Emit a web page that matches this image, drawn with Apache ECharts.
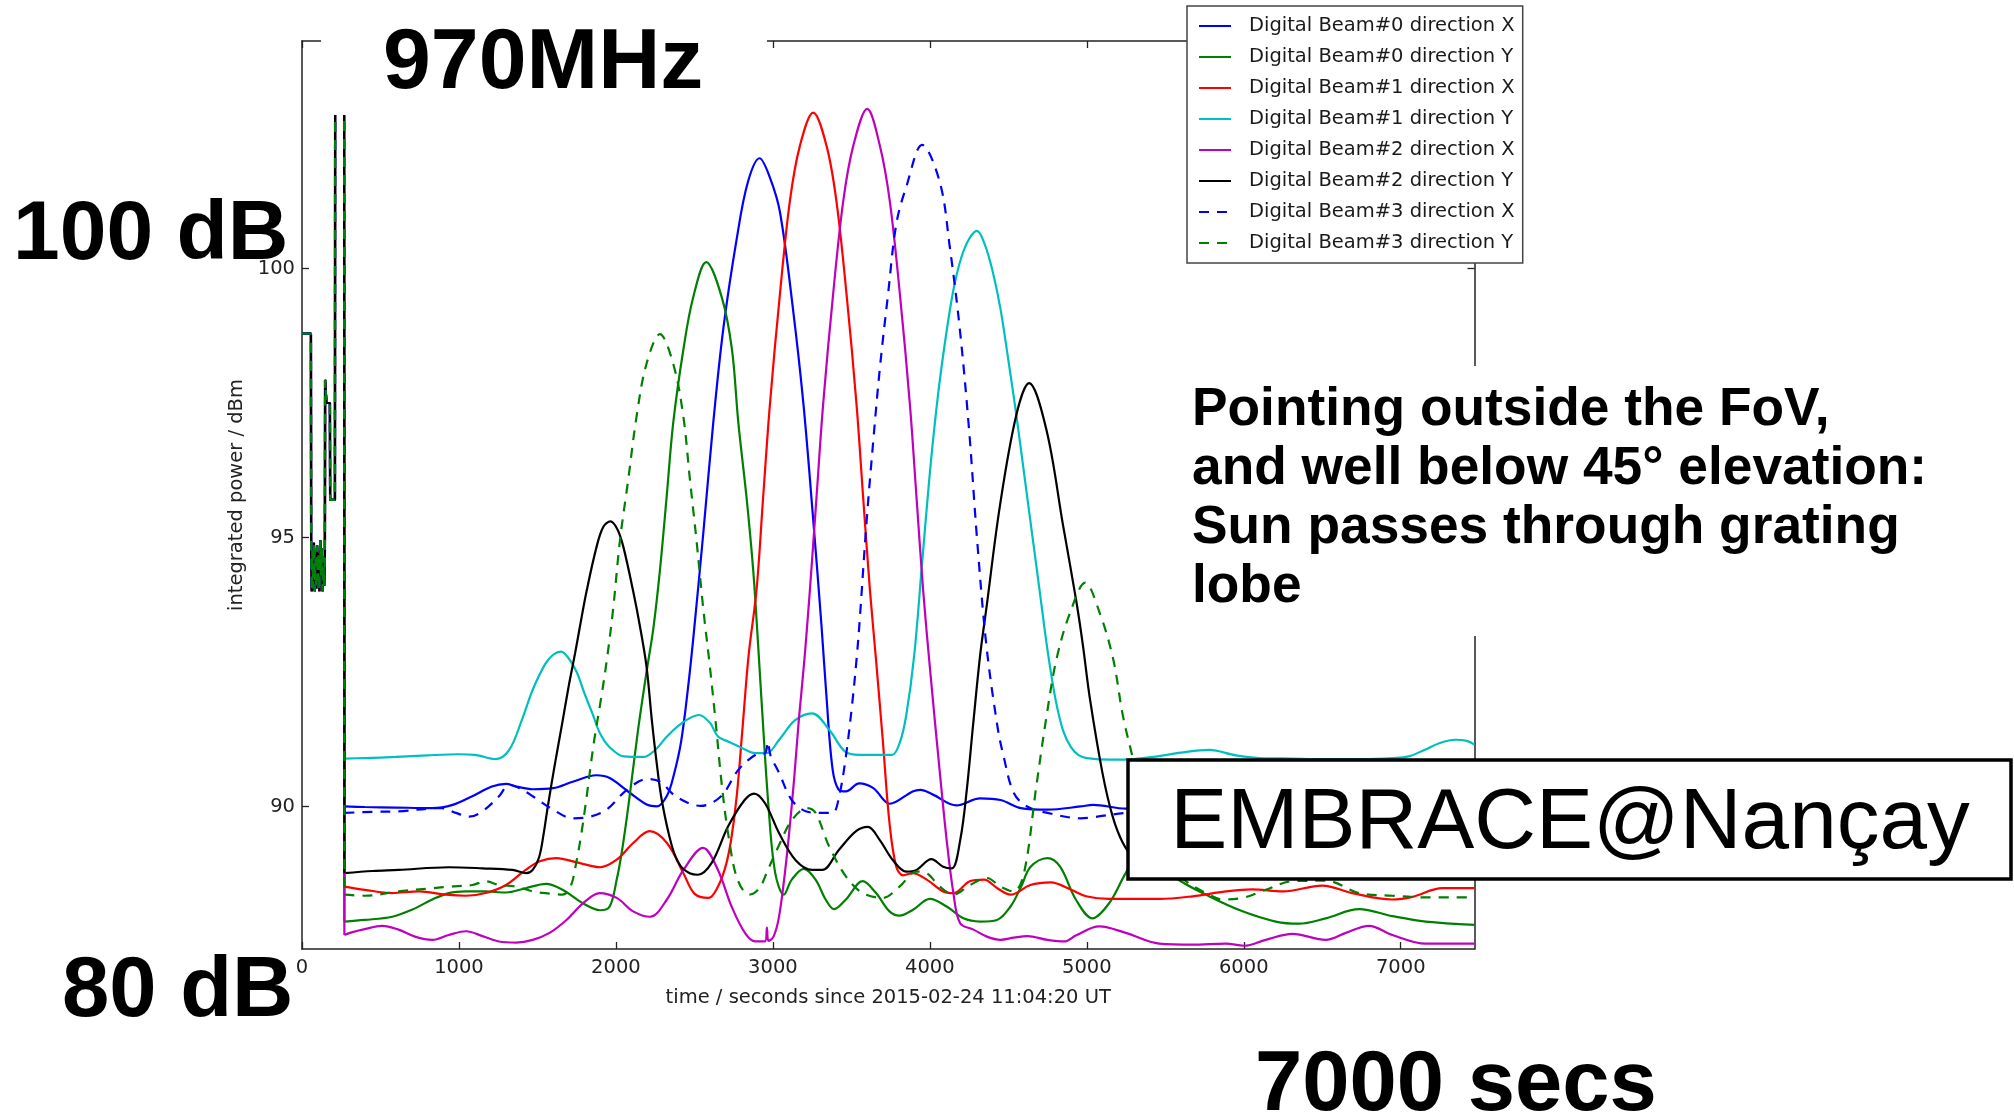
<!DOCTYPE html>
<html>
<head>
<meta charset="utf-8">
<script src="https://cdn.jsdelivr.net/npm/echarts@6/dist/echarts.min.js"></script>
<style>
  html, body { margin: 0; padding: 0; background: #fff; }
  #chart { width: 2014px; height: 1117px; }
</style>
</head>
<body>
<div id="chart"></div>
<script>
// Receiver start-up sweep, identical for every beam, before tracking starts (s, dBm)
const startupTimes = [0, 57, 58, 62, 66, 71, 76, 81, 86, 91, 96, 101, 106, 111, 116, 121, 126, 131, 136, 141, 146, 147, 152, 156, 178, 179, 210, 211, 268];
const startupPower = [98.79, 98.79, 94.8, 94.0, 94.75, 94.05, 94.9, 94.0, 94.6, 94.05, 94.85, 94.2, 94.7, 94.0, 94.95, 94.3, 94.8, 94.0, 94.65, 94.1, 94.6, 97.93, 97.93, 97.5, 97.5, 95.7, 95.7, 104.23, 104.23];

const beamNames = [
  'Digital Beam#0 direction X', 'Digital Beam#0 direction Y',
  'Digital Beam#1 direction X', 'Digital Beam#1 direction Y',
  'Digital Beam#2 direction X', 'Digital Beam#2 direction Y',
  'Digital Beam#3 direction X', 'Digital Beam#3 direction Y'
];

// Integrated power per beam and polarisation during the Sun transit, [seconds, dBm]
const beam0X = [[270, 90.0], [400, 89.99], [600, 89.98], [830, 89.97], [960, 90.03], [1085, 90.19], [1210, 90.37], [1300, 90.42], [1365, 90.37], [1470, 90.32], [1600, 90.34], [1725, 90.46], [1875, 90.58], [1960, 90.53], [2090, 90.25], [2200, 90.03], [2260, 90.0], [2325, 90.2], [2370, 90.6], [2415, 91.2], [2458, 92.17], [2492, 93.1], [2556, 95.06], [2620, 97.13], [2685, 98.9], [2770, 100.56], [2840, 101.6], [2915, 102.05], [2980, 101.7], [3045, 101.05], [3130, 99.2], [3195, 97.47], [3255, 95.4], [3310, 93.35], [3340, 92.1], [3380, 90.7], [3420, 90.31], [3465, 90.28], [3550, 90.43], [3640, 90.34], [3745, 90.05], [3890, 90.28], [3940, 90.31], [4020, 90.22], [4170, 90.02], [4320, 90.15], [4450, 90.12], [4580, 89.97], [4750, 89.94], [4960, 90.0], [5040, 90.03], [5250, 89.96], [5500, 89.98], [6000, 90.0], [6500, 89.98], [7000, 90.0], [7470, 90.0]];
const beam0Y = [[270, 87.86], [400, 87.89], [575, 87.95], [700, 88.08], [830, 88.27], [935, 88.39], [1045, 88.42], [1170, 88.42], [1300, 88.4], [1425, 88.48], [1555, 88.56], [1660, 88.45], [1790, 88.2], [1900, 88.07], [1960, 88.14], [2005, 88.64], [2040, 89.2], [2079, 90.0], [2140, 91.4], [2195, 92.5], [2238, 93.3], [2280, 94.38], [2323, 95.75], [2365, 97.13], [2430, 98.5], [2492, 99.46], [2575, 100.12], [2675, 99.46], [2739, 98.5], [2780, 97.13], [2832, 95.75], [2875, 94.38], [2906, 93.0], [2930, 91.86], [2972, 90.0], [3015, 88.76], [3070, 88.36], [3120, 88.64], [3197, 88.84], [3272, 88.64], [3336, 88.27], [3390, 88.09], [3465, 88.27], [3572, 88.61], [3657, 88.39], [3743, 88.05], [3807, 87.97], [3893, 88.08], [4000, 88.28], [4107, 88.14], [4214, 87.92], [4321, 87.86], [4428, 87.89], [4514, 88.14], [4580, 88.5], [4642, 88.88], [4749, 89.04], [4830, 88.88], [4930, 88.27], [5036, 87.92], [5142, 88.2], [5248, 88.76], [5350, 89.2], [5450, 89.0], [5567, 88.67], [5779, 88.33], [5992, 88.05], [6204, 87.86], [6352, 87.82], [6522, 87.92], [6735, 88.09], [6947, 87.96], [7159, 87.86], [7470, 87.8]];
const beam1X = [[270, 88.51], [400, 88.45], [575, 88.39], [745, 88.42], [915, 88.36], [1045, 88.34], [1170, 88.39], [1300, 88.54], [1425, 88.82], [1515, 88.98], [1620, 89.04], [1750, 88.96], [1835, 88.9], [1900, 88.87], [2005, 89.01], [2110, 89.32], [2215, 89.54], [2325, 89.32], [2430, 88.76], [2500, 88.38], [2590, 88.3], [2650, 88.51], [2700, 88.9], [2735, 89.4], [2770, 90.2], [2805, 91.4], [2845, 92.8], [2896, 94.03], [2938, 95.75], [2981, 97.47], [3045, 99.53], [3108, 101.25], [3172, 102.28], [3257, 102.9], [3342, 102.28], [3405, 101.25], [3469, 99.53], [3533, 97.47], [3575, 95.75], [3618, 94.03], [3655, 92.8], [3700, 91.24], [3743, 89.69], [3786, 88.88], [3830, 88.72], [3890, 88.76], [3980, 88.64], [4085, 88.42], [4150, 88.39], [4255, 88.61], [4345, 88.64], [4430, 88.48], [4515, 88.36], [4640, 88.54], [4770, 88.59], [4900, 88.45], [4995, 88.33], [5140, 88.28], [5460, 88.28], [5675, 88.33], [5885, 88.42], [6050, 88.46], [6250, 88.42], [6500, 88.53], [6690, 88.39], [6945, 88.27], [7075, 88.32], [7265, 88.48], [7470, 88.48]];
const beam1Y = [[270, 90.89], [400, 90.9], [600, 90.92], [800, 90.95], [1000, 90.97], [1100, 90.96], [1235, 90.88], [1320, 91.05], [1400, 91.6], [1470, 92.17], [1550, 92.65], [1600, 92.82], [1650, 92.88], [1700, 92.75], [1750, 92.5], [1800, 92.1], [1850, 91.73], [1900, 91.35], [1960, 91.1], [2050, 90.93], [2175, 90.92], [2250, 91.05], [2325, 91.3], [2420, 91.55], [2530, 91.7], [2600, 91.55], [2650, 91.3], [2720, 91.2], [2780, 91.12], [2890, 90.99], [2960, 90.99], [3040, 91.24], [3140, 91.6], [3250, 91.73], [3360, 91.42], [3460, 91.02], [3550, 90.96], [3680, 90.96], [3760, 90.96], [3810, 91.2], [3850, 91.7], [3900, 92.8], [3950, 94.5], [4000, 96.2], [4050, 97.6], [4100, 98.7], [4150, 99.6], [4200, 100.2], [4250, 100.55], [4300, 100.7], [4350, 100.45], [4400, 99.95], [4450, 99.25], [4500, 98.3], [4550, 97.3], [4600, 96.2], [4650, 95.1], [4700, 94.0], [4750, 92.9], [4800, 92.0], [4850, 91.4], [4900, 91.1], [4950, 90.95], [5000, 90.9], [5150, 90.87], [5300, 90.88], [5450, 90.93], [5600, 91.0], [5780, 91.05], [5950, 90.95], [6100, 90.9], [6300, 90.89], [6500, 90.88], [6750, 90.88], [6950, 90.9], [7050, 90.93], [7150, 91.05], [7250, 91.18], [7350, 91.24], [7420, 91.22], [7470, 91.15]];
const beam2X = [[270, 87.61], [316, 87.66], [400, 87.72], [510, 87.78], [615, 87.71], [720, 87.58], [830, 87.52], [935, 87.61], [1045, 87.68], [1150, 87.59], [1255, 87.49], [1365, 87.47], [1470, 87.52], [1577, 87.65], [1685, 87.89], [1790, 88.2], [1897, 88.39], [2005, 88.3], [2110, 88.05], [2218, 87.95], [2325, 88.27], [2430, 88.82], [2555, 89.23], [2650, 88.82], [2737, 88.14], [2822, 87.65], [2887, 87.49], [2950, 87.49], [2962, 87.75], [2972, 87.5], [3004, 87.58], [3036, 87.9], [3070, 88.6], [3100, 89.4], [3135, 90.5], [3165, 91.6], [3200, 92.7], [3236, 94.03], [3278, 95.75], [3320, 97.47], [3384, 99.53], [3448, 101.25], [3512, 102.28], [3601, 102.97], [3682, 102.28], [3745, 101.25], [3809, 99.53], [3873, 97.47], [3915, 95.75], [3957, 94.03], [4000, 92.59], [4064, 90.62], [4107, 89.38], [4150, 88.39], [4193, 87.83], [4278, 87.71], [4364, 87.58], [4450, 87.52], [4535, 87.56], [4621, 87.59], [4749, 87.52], [4856, 87.49], [4930, 87.6], [5079, 87.77], [5248, 87.65], [5461, 87.45], [5673, 87.43], [5885, 87.45], [6002, 87.41], [6140, 87.52], [6310, 87.63], [6522, 87.52], [6650, 87.65], [6798, 87.78], [6947, 87.61], [7159, 87.45], [7470, 87.45]];
const beam2Y = [[270, 88.76], [450, 88.8], [615, 88.82], [935, 88.87], [1150, 88.85], [1340, 88.82], [1430, 88.76], [1470, 88.82], [1510, 89.05], [1540, 89.5], [1566, 90.0], [1612, 90.8], [1658, 91.55], [1700, 92.25], [1740, 92.85], [1771, 93.35], [1813, 94.0], [1877, 94.83], [1920, 95.2], [1965, 95.3], [2010, 95.15], [2047, 94.83], [2110, 94.0], [2153, 93.35], [2195, 92.6], [2229, 91.6], [2260, 90.8], [2293, 90.1], [2357, 89.26], [2410, 88.9], [2470, 88.76], [2522, 88.73], [2610, 88.95], [2715, 89.63], [2820, 90.12], [2880, 90.24], [2950, 90.06], [3040, 89.5], [3145, 89.0], [3250, 88.82], [3315, 88.82], [3420, 89.19], [3530, 89.54], [3605, 89.62], [3680, 89.38], [3765, 89.0], [3850, 88.79], [3915, 88.82], [4010, 89.02], [4085, 88.88], [4140, 88.85], [4195, 89.4], [4235, 90.3], [4275, 91.5], [4320, 92.8], [4361, 93.7], [4446, 95.58], [4552, 97.29], [4632, 97.87], [4743, 97.0], [4849, 95.22], [4934, 93.8], [4975, 93.0], [5020, 92.0], [5100, 90.62], [5165, 89.81], [5230, 89.32], [5300, 89.05], [5450, 88.85], [5700, 88.8], [6200, 88.85], [6700, 88.8], [7200, 88.85], [7470, 88.8]];
const beam3X = [[270, 89.88], [450, 89.9], [615, 89.91], [890, 89.97], [980, 89.88], [1065, 89.81], [1150, 89.91], [1255, 90.19], [1320, 90.4], [1385, 90.34], [1470, 90.19], [1600, 89.94], [1725, 89.78], [1835, 89.81], [1940, 89.94], [2070, 90.31], [2200, 90.51], [2280, 90.46], [2390, 90.17], [2540, 90.01], [2670, 90.19], [2780, 90.68], [2890, 90.96], [2950, 90.99], [2968, 91.2], [2985, 90.95], [3040, 90.62], [3120, 90.12], [3210, 89.91], [3300, 89.88], [3380, 89.88], [3422, 90.19], [3465, 90.93], [3505, 91.9], [3535, 92.8], [3554, 93.5], [3597, 95.3], [3639, 96.78], [3682, 98.16], [3734, 99.53], [3787, 100.84], [3851, 101.53], [3951, 102.3], [4064, 101.6], [4127, 100.4], [4190, 98.9], [4250, 97.0], [4300, 95.0], [4360, 93.0], [4430, 91.5], [4470, 90.93], [4535, 90.25], [4620, 90.0], [4750, 89.88], [4960, 89.78], [5040, 89.8], [5250, 89.88], [5500, 89.9], [6000, 89.92], [6500, 89.9], [7000, 89.9], [7470, 89.92]];
const beam3Y = [[270, 88.36], [400, 88.34], [615, 88.42], [830, 88.48], [935, 88.51], [1085, 88.54], [1170, 88.61], [1255, 88.54], [1365, 88.51], [1470, 88.42], [1577, 88.38], [1660, 88.36], [1710, 88.5], [1750, 89.0], [1780, 89.5], [1805, 90.0], [1860, 91.2], [1905, 92.0], [1941, 92.7], [1983, 93.69], [2025, 94.93], [2079, 96.09], [2132, 97.26], [2195, 98.23], [2280, 98.78], [2365, 98.23], [2429, 97.26], [2471, 96.09], [2514, 94.93], [2556, 93.69], [2599, 92.59], [2636, 91.55], [2678, 90.31], [2721, 89.38], [2775, 88.64], [2850, 88.36], [2914, 88.48], [2968, 88.82], [3036, 89.26], [3122, 89.75], [3218, 89.97], [3272, 89.88], [3358, 89.26], [3465, 88.7], [3572, 88.39], [3700, 88.3], [3807, 88.51], [3914, 88.79], [3979, 88.76], [4064, 88.51], [4150, 88.36], [4257, 88.54], [4364, 88.67], [4450, 88.51], [4535, 88.42], [4600, 88.76], [4679, 90.39], [4743, 91.67], [4807, 92.74], [4892, 93.59], [4990, 94.16], [5083, 93.59], [5168, 92.74], [5231, 91.67], [5306, 90.75], [5400, 89.6], [5500, 88.95], [5631, 88.61], [5779, 88.36], [5864, 88.27], [5992, 88.3], [6140, 88.45], [6310, 88.61], [6522, 88.62], [6735, 88.39], [6947, 88.34], [7159, 88.31], [7470, 88.31]];

const beamData = [beam0X, beam0Y, beam1X, beam1Y, beam2X, beam2Y, beam3X, beam3Y];

// Axis extents and tick positions
const timeRange = [0, 7470];
const powerRange = [87.35, 104.23];
const timeTicks = [0, 1000, 2000, 3000, 4000, 5000, 6000, 7000];
const powerTicks = [90, 95, 100];

const beamColors = ['#0000ff', '#008000', '#ff0000', '#00bfbf', '#bf00bf', '#000000', '#0000ff', '#008000'];
const beamDashed = [false, false, false, false, false, false, true, true];
const dashPattern = [10, 8];

const tickFont = { fontFamily: 'DejaVu Sans', fontSize: 19.5, color: '#222' };
const spine = { show: true, onZero: false, lineStyle: { color: '#222', width: 1.5 } };

function lineStyleFor(i) {
  return { color: beamColors[i], width: 2.2, type: beamDashed[i] ? dashPattern : 'solid' };
}

// Main tracking curves (smoothed) followed by the unsmoothed start-up sweep
const series = [];
beamNames.forEach((name, i) => {
  series.push({
    name: name, type: 'line', data: beamData[i],
    smooth: 0.35, symbol: 'none', lineStyle: lineStyleFor(i),
    itemStyle: { color: beamColors[i] }, silent: true
  });
});
beamNames.forEach((name, i) => {
  const sweep = startupTimes.map((t, k) => [t, startupPower[k]]);
  sweep.push(beamData[i][0]);
  series.push({
    name: name + ' (start-up)', type: 'line', data: sweep,
    smooth: false, symbol: 'none', lineStyle: lineStyleFor(i),
    itemStyle: { color: beamColors[i] }, silent: true
  });
});

// Place a text by its baseline using canvas "middle" alignment
const mid = (baseline, size) => baseline - 0.33 * size;
const boldFont = { fontFamily: 'Liberation Sans', fontWeight: 'bold', fill: '#000' };

const chart = echarts.init(document.getElementById('chart'), null, { renderer: 'canvas' });
chart.setOption({
  animation: false,
  backgroundColor: '#fff',
  grid: { left: 302, top: 41, width: 1172.5, height: 908, containLabel: false },
  xAxis: [
    {
      type: 'value', position: 'bottom', min: timeRange[0], max: timeRange[1],
      axisLine: spine,
      axisTick: { inside: true, length: 7, customValues: timeTicks, lineStyle: { color: '#222', width: 1.3 } },
      axisLabel: Object.assign({ customValues: timeTicks, margin: 9, formatter: v => String(v) }, tickFont),
      splitLine: { show: false },
      name: 'time / seconds since 2015-02-24 11:04:20 UT',
      nameLocation: 'middle', nameGap: 39,
      nameTextStyle: { fontFamily: 'DejaVu Sans', fontSize: 19.5, color: '#222' }
    },
    {
      type: 'value', position: 'top', min: timeRange[0], max: timeRange[1],
      axisLine: spine,
      axisTick: { inside: true, length: 7, customValues: timeTicks, lineStyle: { color: '#222', width: 1.3 } },
      axisLabel: { show: false }, splitLine: { show: false }
    }
  ],
  yAxis: [
    {
      type: 'value', position: 'left', min: powerRange[0], max: powerRange[1],
      axisLine: spine,
      axisTick: { inside: true, length: 7, customValues: powerTicks, lineStyle: { color: '#222', width: 1.3 } },
      axisLabel: Object.assign({ customValues: powerTicks, margin: 7, formatter: v => String(v) }, tickFont),
      splitLine: { show: false },
      name: 'integrated power / dBm', nameLocation: 'middle', nameGap: 52, nameRotate: 90,
      nameTextStyle: { fontFamily: 'DejaVu Sans', fontSize: 19.5, color: '#222' }
    },
    {
      type: 'value', position: 'right', min: powerRange[0], max: powerRange[1],
      axisLine: spine,
      axisTick: { inside: true, length: 7, customValues: powerTicks, lineStyle: { color: '#222', width: 1.3 } },
      axisLabel: { show: false }, splitLine: { show: false }
    }
  ],
  legend: {
    data: beamNames, orient: 'vertical', left: 1187, top: 6,
    padding: [10, 8, 10, 11], itemWidth: 32, itemHeight: 14, itemGap: 11,
    backgroundColor: '#fff', borderColor: '#444', borderWidth: 1.5, borderRadius: 0,
    selectedMode: false,
    itemStyle: { color: 'transparent', borderColor: 'transparent', borderWidth: 0, opacity: 0 },
    textStyle: { fontFamily: 'DejaVu Sans', fontSize: 19.5, color: '#1a1a1a', lineHeight: 20, padding: [0, 0, 0, 13] }
  },
  series: series,
  graphic: [
    { type: 'rect', z: 100, shape: { x: 321, y: 0, width: 446, height: 115 }, style: { fill: '#fff' } },
    { type: 'text', z: 101, x: 383, y: mid(93, 86), style: Object.assign({ text: '970MHz', fontSize: 86, verticalAlign: 'middle' }, boldFont) },
    { type: 'text', z: 101, x: 13, y: mid(264, 84), style: Object.assign({ text: '100 dB', fontSize: 84, verticalAlign: 'middle' }, boldFont) },
    { type: 'text', z: 101, x: 62, y: mid(1021, 85), style: Object.assign({ text: '80 dB', fontSize: 85, verticalAlign: 'middle' }, boldFont) },
    { type: 'text', z: 101, x: 1255, y: mid(1115, 85), style: Object.assign({ text: '7000 secs', fontSize: 85, verticalAlign: 'middle' }, boldFont) },
    { type: 'rect', z: 100, shape: { x: 1180, y: 366, width: 834, height: 270 }, style: { fill: '#fff' } },
    { type: 'text', z: 101, x: 1192, y: 427.5 - 0.33 * 53 - 29.5,
      style: Object.assign({ text: 'Pointing outside the FoV,\nand well below 45° elevation:\nSun passes through grating\nlobe', fontSize: 53.3, lineHeight: 59, verticalAlign: 'top' }, boldFont) },
    { type: 'rect', z: 100, shape: { x: 1128, y: 760, width: 883, height: 119 }, style: { fill: '#fff', stroke: '#000', lineWidth: 3.5 } },
    { type: 'text', z: 101, x: 1570, y: mid(852, 85),
      style: { text: 'EMBRACE@Nançay', fontFamily: 'Liberation Sans', fontSize: 85.5, fill: '#000', align: 'center', verticalAlign: 'middle' } }
  ]
});
</script>
</body>
</html>
